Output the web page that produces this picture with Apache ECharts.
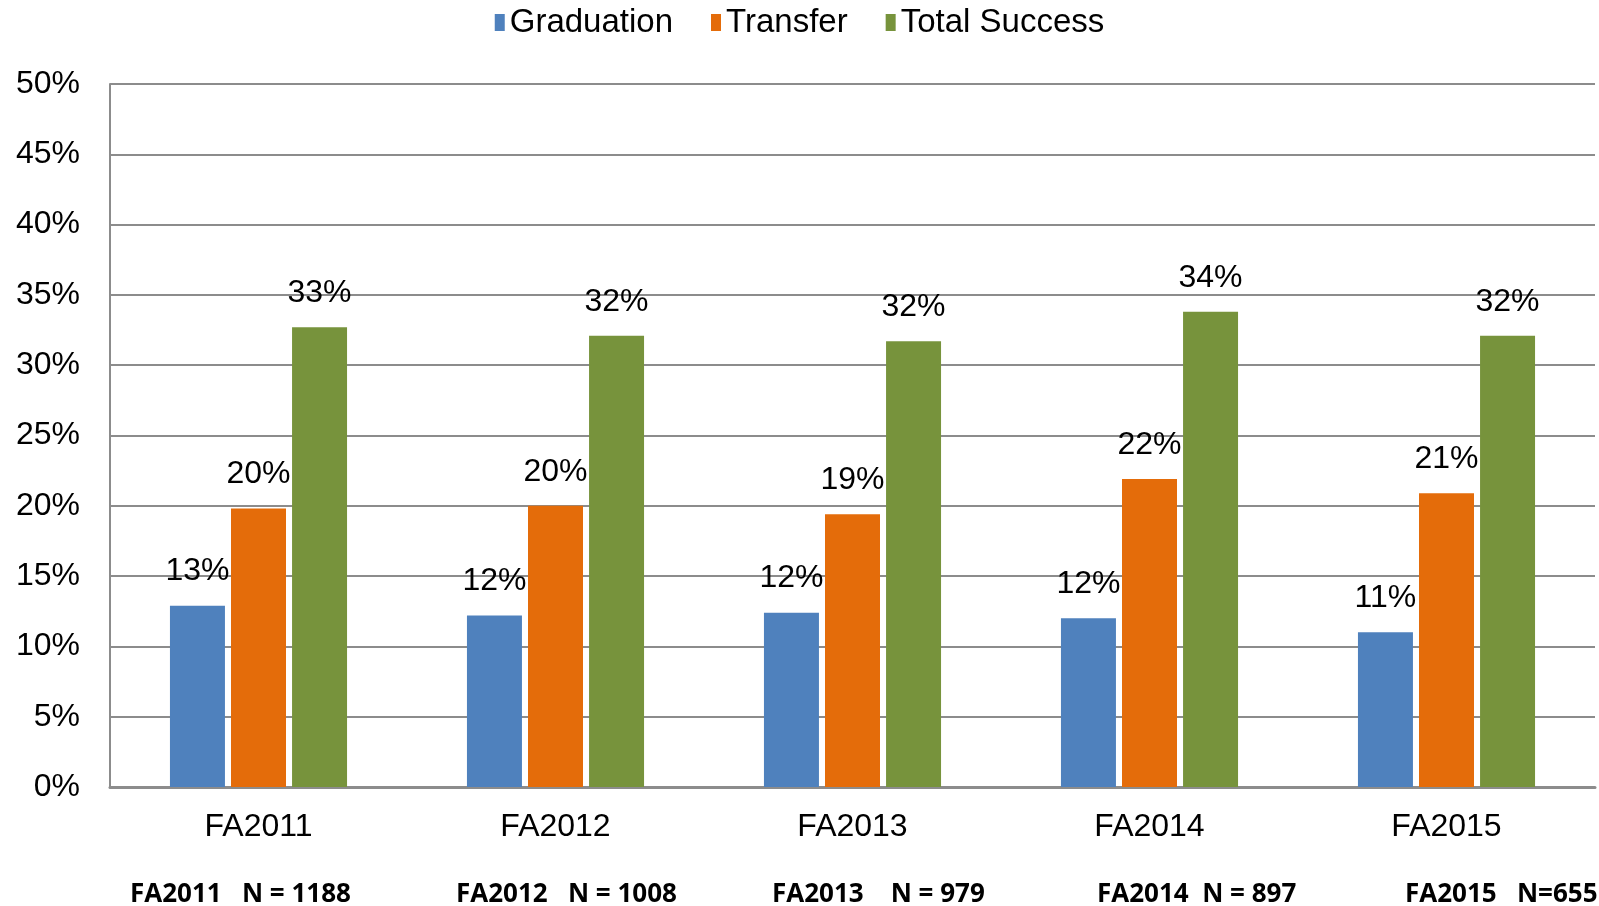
<!DOCTYPE html>
<html>
<head>
<meta charset="utf-8">
<script src="https://cdn.jsdelivr.net/npm/echarts@6/dist/echarts.min.js"></script>
<style>
  html, body { margin: 0; padding: 0; background: #fff; }
  #chart { width: 1599px; height: 906px; }
</style>
</head>
<body>
<div id="chart"></div>
<script>
// data (percent)
const terms = ['FA2011', 'FA2012', 'FA2013', 'FA2014', 'FA2015'];
const graduation = [12.9, 12.2, 12.4, 12.0, 11.0];
const transfer = [19.8, 20.0, 19.4, 21.9, 20.9];
const totalSuccess = [32.7, 32.1, 31.7, 33.8, 32.1];
const cohortNotes = ['FA2011   N = 1188', 'FA2012   N = 1008', 'FA2013    N = 979', 'FA2014  N = 897', 'FA2015   N=655'];
const notePos = [130, 456, 772, 1097, 1405];

const font = '"Liberation Sans", Arial, sans-serif';

function barSeries(name, data, color) {
  return {
    name: name,
    type: 'bar',
    data: data,
    barWidth: 55,
    barGap: '11%',
    itemStyle: { color: color },
    label: {
      show: true,
      position: 'top',
      distance: 18,
      color: '#000',
      fontSize: 32,
      fontFamily: font,
      formatter: p => Math.round(p.value) + '%'
    }
  };
}

const chart = echarts.init(document.getElementById('chart'));
chart.setOption({
  animation: false,
  textStyle: { fontFamily: font },
  legend: {
    top: 1,
    left: 'center',
    itemWidth: 10,
    itemHeight: 17,
    itemGap: 38,
    icon: 'rect',
    textStyle: { fontSize: 33, color: '#000', fontFamily: font },
    data: ['Graduation', 'Transfer', 'Total Success']
  },
  grid: { left: 110, right: 4, top: 84, bottom: 119 },
  xAxis: {
    type: 'category',
    data: terms,
    axisTick: { show: false },
    axisLine: { lineStyle: { color: '#8c8c8c', width: 3 } },
    axisLabel: { color: '#000', fontSize: 32, margin: 24, fontFamily: font }
  },
  yAxis: {
    type: 'value',
    min: 0,
    max: 50,
    interval: 5,
    axisLine: { show: true, lineStyle: { color: '#8c8c8c', width: 2 } },
    axisTick: { show: false },
    splitLine: { lineStyle: { color: '#8c8c8c', width: 2 } },
    axisLabel: { color: '#000', fontSize: 32, margin: 30, fontFamily: font, formatter: '{value}%' }
  },
  graphic: cohortNotes.map((t, i) => ({
    type: 'text',
    left: notePos[i],
    top: 882,
    style: { text: t, fill: '#000', font: 'bold 26px "Open Sans", "Liberation Sans", sans-serif' }
  })),
  series: [
    barSeries('Graduation', graduation, '#4f81bd'),
    barSeries('Transfer', transfer, '#e46c0a'),
    barSeries('Total Success', totalSuccess, '#77933c')
  ]
});
</script>
</body>
</html>
